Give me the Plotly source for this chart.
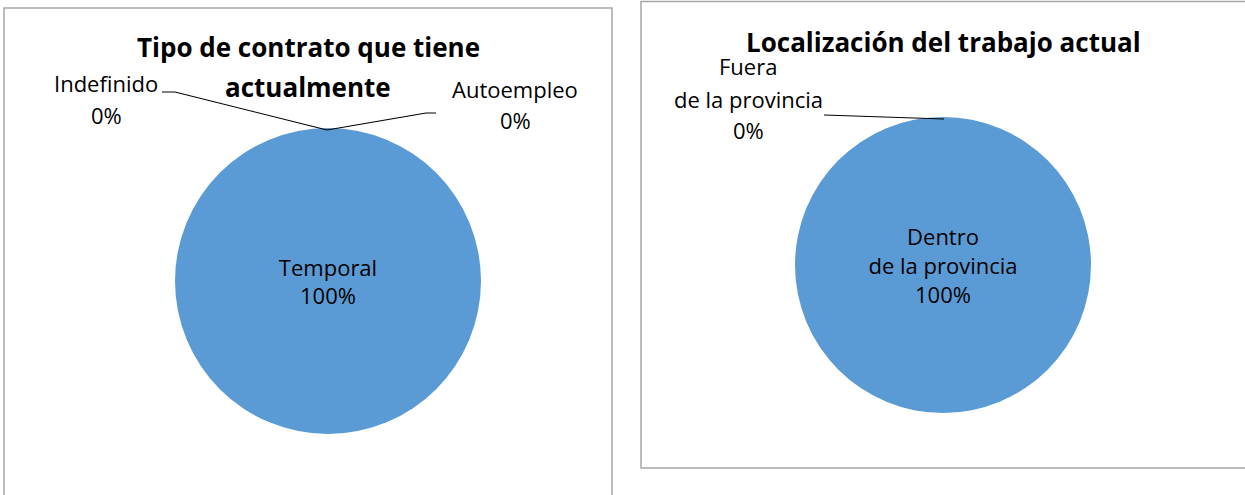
import plotly.graph_objects as go

W, H = 1245, 495

# Data
left_title_lines = ["Tipo de contrato que tiene", "actualmente"]
left_labels = ["Indefinido", "Temporal", "Autoempleo"]
left_values = [0, 100, 0]

right_title_lines = ["Localización del trabajo actual"]
right_labels = ["Fuera de la provincia", "Dentro de la provincia"]
right_label_lines = [["Fuera", "de la provincia"], ["Dentro", "de la provincia"]]
right_values = [0, 100]

BLUE = "#5B9BD5"
FONT = "Open Sans"
LBL = 22
TTL = 26


def px(x):
    return x / W


def py(y):
    return 1 - y / H


def inside_positions(values):
    return ["inside" if v > 0 else "none" for v in values]


fig = go.Figure()

fig.add_trace(go.Pie(
    labels=left_labels, values=left_values, sort=False,
    direction="clockwise", rotation=0,
    marker=dict(colors=[BLUE] * 3, line=dict(width=0)),
    texttemplate="%{label}<br>%{percent:.0%}",
    textposition=inside_positions(left_values),
    insidetextfont=dict(family=FONT, size=LBL, color="#000000"),
    hoverinfo="label+percent", showlegend=False,
    domain=dict(x=[px(175), px(481)], y=[py(434), py(128)]),
))

fig.add_trace(go.Pie(
    labels=right_labels, values=right_values, sort=False,
    direction="clockwise", rotation=0,
    marker=dict(colors=[BLUE] * 2, line=dict(width=0)),
    text=["<br>".join(l) for l in right_label_lines],
    texttemplate="%{text}<br>%{percent:.0%}",
    textposition=inside_positions(right_values),
    insidetextfont=dict(family=FONT, size=LBL, color="#000000"),
    hoverinfo="label+percent", showlegend=False,
    domain=dict(x=[px(795), px(1091)], y=[py(413), py(117)]),
))

shapes = [
    # panel borders
    dict(type="rect", xref="paper", yref="paper", x0=px(4), x1=px(612), y0=py(505), y1=py(8),
         line=dict(color="#A6A6A6", width=1.5), fillcolor="rgba(0,0,0,0)", layer="below"),
    dict(type="rect", xref="paper", yref="paper", x0=px(641), x1=px(1255), y0=py(468), y1=py(1.5),
         line=dict(color="#A6A6A6", width=1.5), fillcolor="rgba(0,0,0,0)", layer="below"),
]


def leader(points):
    d = "M " + " L ".join(f"{px(x)},{py(y)}" for x, y in points)
    return dict(type="path", xref="paper", yref="paper", path=d,
                line=dict(color="#000000", width=1.2))


shapes.append(leader([(162, 92), (175, 92), (327, 130)]))
shapes.append(leader([(327, 130), (426, 113), (436, 113)]))
shapes.append(leader([(824, 115), (944, 119)]))

annotations = []


def text_at(txt, x, y, size=LBL, bold=False):
    annotations.append(dict(
        text=f"<b>{txt}</b>" if bold else txt, x=px(x), y=py(y), xref="paper", yref="paper",
        xanchor="center", yanchor="middle", showarrow=False,
        font=dict(family=FONT, size=size, color="#000000")))


# titles
text_at(left_title_lines[0], 308, 47, TTL, True)
text_at(left_title_lines[1], 308, 87, TTL, True)
text_at(right_title_lines[0], 943, 42, TTL, True)

# outside labels for zero slices
text_at(left_labels[0], 106, 83)
text_at(f"{left_values[0]}%", 106, 115)
text_at(left_labels[2], 515, 89)
text_at(f"{left_values[2]}%", 515, 120)
text_at(right_label_lines[0][0], 748, 66)
text_at(right_label_lines[0][1], 748, 99)
text_at(f"{right_values[0]}%", 748, 130)

fig.update_layout(
    width=W, height=H,
    margin=dict(l=0, r=0, t=0, b=0),
    paper_bgcolor="#FFFFFF", plot_bgcolor="#FFFFFF",
    shapes=shapes, annotations=annotations,
    font=dict(family=FONT, color="#000000"),
)

fig.write_html("out.html", config={"displayModeBar": False},
               post_script="document.body.style.margin='0';document.body.style.overflow='hidden';")
